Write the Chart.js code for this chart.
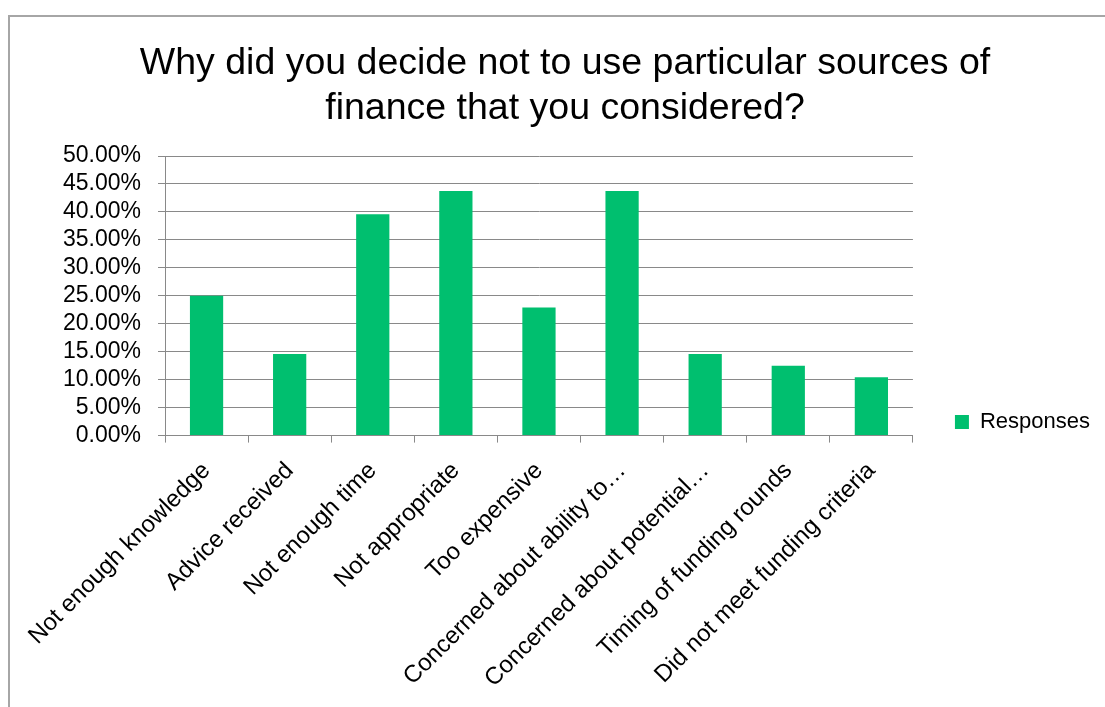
<!DOCTYPE html>
<html>
<head>
<meta charset="utf-8">
<title>Why did you decide not to use particular sources of finance</title>
<script src="https://cdn.jsdelivr.net/npm/chart.js@4/dist/chart.umd.min.js"></script>
<style>
  html, body { margin: 0; padding: 0; background: #fff; }
  #wrap { position: relative; width: 1105px; height: 707px; overflow: hidden; }
  #frame { position: absolute; left: 8px; top: 15px; width: 1200px; height: 800px;
           border: 2px solid #a6a6a6; pointer-events: none; box-sizing: border-box; }
  canvas { position: absolute; left: 0; top: 0; }
</style>
</head>
<body>
<div id="wrap">
  <canvas id="chart" width="1105" height="707"></canvas>
  <div id="frame"></div>
</div>
<script>
// categories as shown on the axis (Excel truncated two of them)
const categories = [
  'Not enough knowledge',
  'Advice received',
  'Not enough time',
  'Not appropriate',
  'Too expensive',
  'Concerned about ability to…',
  'Concerned about potential…',
  'Timing of funding rounds',
  'Did not meet funding criteria'
];
// share of responses, in percent
const responses = [25.00, 14.58, 39.58, 43.75, 22.92, 43.75, 14.58, 12.50, 10.42];
const seriesName = 'Responses';
const titleLines = ['Why did you decide not to use particular sources of', 'finance that you considered?'];
const yTicksMax = 50, yTicksStep = 5;

const GREEN = '#00bf6f';
const GRID = '#898989';
const FONT = "'Liberation Sans', Arial, sans-serif";

Chart.defaults.font.family = FONT;
Chart.defaults.color = '#000';

new Chart(document.getElementById('chart'), {
  type: 'bar',
  data: {
    labels: categories,
    datasets: [{
      label: seriesName,
      data: responses,
      backgroundColor: GREEN,
      borderWidth: 0,
      categoryPercentage: 1,
      barPercentage: 0.4
    }]
  },
  options: {
    responsive: false,
    animation: false,
    layout: { padding: { left: 30, right: 5, top: 41, bottom: 0 } },
    plugins: {
      title: {
        display: true,
        text: titleLines,
        font: { size: 37.5, weight: 'normal' },
        color: '#000',
        padding: { top: 0, bottom: 25 },
        lineHeight: 1.07
      },
      legend: {
        position: 'right',
        // empty legend title only pushes the single entry down, like Excel
        title: { display: true, text: ' ', font: { size: 10 }, padding: { top: 0, bottom: 84 } },
        labels: {
          boxWidth: 14, boxHeight: 14,
          font: { size: 22 },
          padding: 42
        }
      },
      tooltip: { enabled: false }
    },
    scales: {
      x: {
        offset: true,
        grid: { offset: true, drawOnChartArea: false, drawTicks: true, tickLength: 7, color: GRID, lineWidth: 1 },
        border: { color: GRID, width: 1 },
        ticks: { autoSkip: false, maxRotation: 45, minRotation: 45, font: { size: 24 }, color: '#000', padding: 14 }
      },
      y: {
        min: 0, max: yTicksMax,
        afterFit: scale => { scale.width = 135; },
        grid: { color: GRID, lineWidth: 1, tickLength: 7 },
        border: { color: GRID, width: 1 },
        ticks: {
          autoSkip: false,
          stepSize: yTicksStep,
          font: { size: 23 },
          color: '#000',
          padding: 17,
          callback: v => v.toFixed(2) + '%'
        }
      }
    }
  }
});
</script>
</body>
</html>
